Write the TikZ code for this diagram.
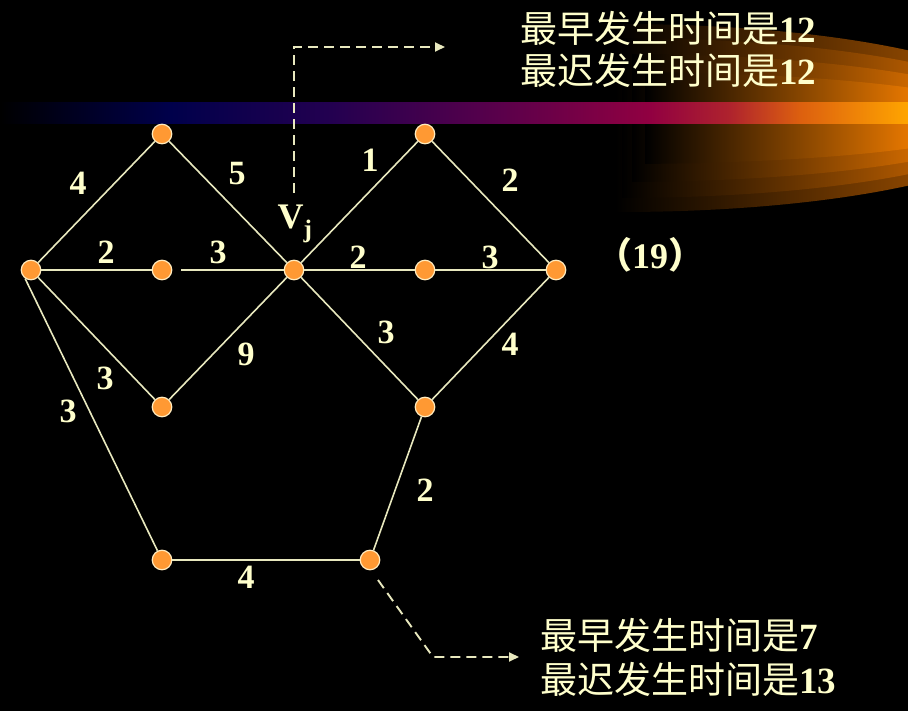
\documentclass[tikz,border=0pt]{standalone}
\usepackage{fontspec}
\setmainfont{Liberation Serif}
\newfontfamily\cjk{Noto Sans CJK SC}
\usetikzlibrary{arrows.meta}
\definecolor{txt}{RGB}{255,255,204}
\definecolor{edgec}{RGB}{232,232,190}
\definecolor{nodefill}{RGB}{255,153,51}
\definecolor{nodeline}{RGB}{255,235,190}
\definecolor{c1}{RGB}{0,0,75}
\definecolor{c2}{RGB}{35,0,80}
\definecolor{c3}{RGB}{90,0,75}
\definecolor{c4}{RGB}{145,0,65}
\definecolor{c5}{RGB}{175,35,45}
\definecolor{c6}{RGB}{220,95,15}
\definecolor{c7}{RGB}{255,165,0}
\definecolor{g1}{RGB}{135,68,0}
\definecolor{g2}{RGB}{172,87,0}
\definecolor{g3}{RGB}{202,103,0}
\definecolor{g4}{RGB}{228,118,0}
\pgfdeclarehorizontalshading{barshade}{100bp}{color(0bp)=(black); color(25bp)=(black); color(34.4bp)=(c1); color(43.2bp)=(c2); color(52.5bp)=(c3); color(60.8bp)=(c4); color(65.2bp)=(c5); color(69bp)=(c6); color(75bp)=(c7); color(100bp)=(c7)}
\begin{document}
\begin{tikzpicture}[x=1pt,y=-1pt,
  dot/.style={circle, fill=nodefill, draw=nodeline, line width=1.2pt, minimum size=19.5pt, inner sep=0pt},
  lbl/.style={text=txt, font=\fontsize{34}{34}\selectfont\bfseries, inner sep=0pt},
  info/.style={text=txt, font=\fontsize{37}{42}\selectfont, inner sep=0pt, anchor=west},
  ln/.style={draw=edgec, line width=1.6pt},
  dsh/.style={draw=edgec, line width=1.9pt, dash pattern=on 10pt off 6pt, -{Triangle[length=10pt,width=9pt]}}]
\fill[black] (0,0) rectangle (908,711);
\useasboundingbox (0,0) rectangle (908,711);
% glow
\foreach \ry/\rx/\lx/\col in {94/415/615/g1, 80/405/622/g2, 64/395/632/g3, 46/385/645/g4}{
  \begin{scope}
    \clip (620,118) ellipse [x radius=\rx, y radius=\ry];
    \shade[left color=black, right color=\col] (\lx,0) rectangle (908,240);
  \end{scope}
}
% bar
\shade[shading=barshade] (0,103) rectangle (908,124);
% nodes
\node[dot] (A) at (31,270) {};
\node[dot] (B) at (162,134) {};
\node[dot] (C) at (162,270) {};
\node[dot] (D) at (162,407) {};
\node[dot] (V) at (294,270) {};
\node[dot] (F) at (425,134) {};
\node[dot] (G) at (425,270) {};
\node[dot] (H) at (425,407) {};
\node[dot] (I) at (556,270) {};
\node[dot] (J) at (162,560) {};
\node[dot] (K) at (370,560) {};
% edges
\draw[ln] (A) -- (B);
\draw[ln] (B) -- (V);
\draw[ln] (A) -- (C);
\draw[ln, shorten <=9pt] (C) -- (V);
\draw[ln] (A) -- (D);
\draw[ln] (D) -- (V);
\draw[ln] (A.235) -- (J);
\draw[ln] (J) -- (K);
\draw[ln] (K) -- (H);
\draw[ln] (V) -- (F);
\draw[ln] (F) -- (I);
\draw[ln] (V) -- (G);
\draw[ln] (G) -- (I);
\draw[ln] (V) -- (H);
\draw[ln] (H) -- (I);
% weights
\node[lbl] (wAB) at (78,183) {4};
\node[lbl] (wBV) at (237,174) {5};
\node[lbl] (wAC) at (106,252) {2};
\node[lbl] (wCV) at (218,252) {3};
\node[lbl] (wAD) at (105,378) {3};
\node[lbl] (wDV) at (246,354) {9};
\node[lbl] (wAJ) at (68,411) {3};
\node[lbl] (wJK) at (246,577) {4};
\node[lbl] (wKH) at (425,490) {2};
\node[lbl] (wVF) at (370,160) {1};
\node[lbl] (wFI) at (510,180) {2};
\node[lbl] (wVG) at (358,257) {2};
\node[lbl] (wGI) at (490,257) {3};
\node[lbl] (wVH) at (386,332) {3};
\node[lbl] (wHI) at (510,344) {4};
\node[lbl, font=\fontsize{36}{36}\selectfont\bfseries] (vj) at (295,224) {V\textsubscript{j}};
\node[lbl, font=\fontsize{36}{36}\selectfont\bfseries] (end) at (650,255) {{\cjk （}19{\cjk ）}};
% info texts
\node[info] (e1) at (520,28) {{\cjk 最早发生时间是}\textbf{12}};
\node[info] (l1) at (520,70) {{\cjk 最迟发生时间是}\textbf{12}};
\node[info] (e2) at (540,635) {{\cjk 最早发生时间是}\textbf{7}};
\node[info] (l2) at (540,679) {{\cjk 最迟发生时间是}\textbf{13}};
% dashed pointers
\coordinate (t0) at (294,193);
\coordinate (t1) at (294,47);
\coordinate (t2) at (445,47);
\draw[dsh] (t0) -- (t1) -- (t2);
\coordinate (b0) at (378,580);
\coordinate (b1) at (433,657);
\coordinate (b2) at (519,657);
\draw[dsh] (b0) -- (b1) -- (b2);
\end{tikzpicture}
\end{document}
